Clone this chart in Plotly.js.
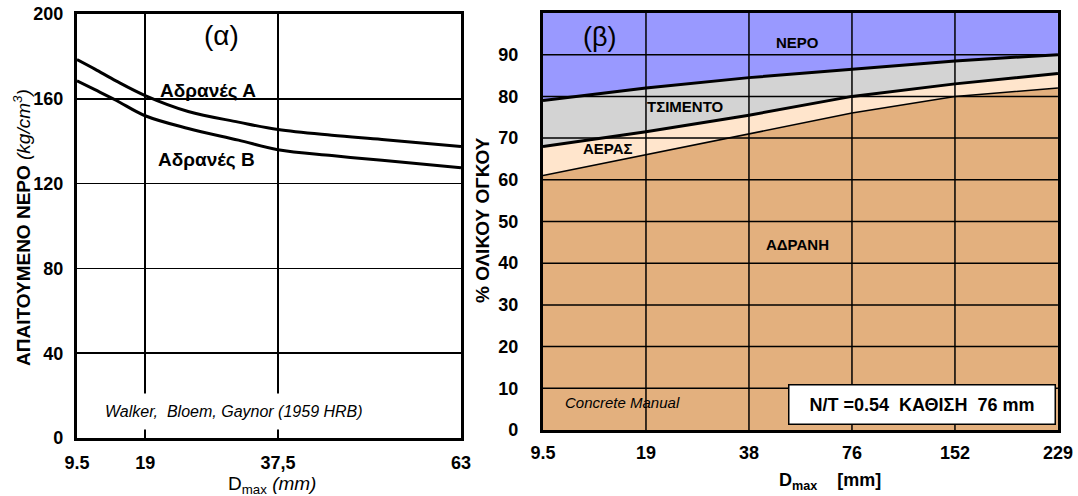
<!DOCTYPE html>
<html>
<head>
<meta charset="utf-8">
<script src="https://cdn.plot.ly/plotly-3.0.1.min.js"></script>
<style>
  html, body { margin: 0; padding: 0; background: #ffffff; }
  #chart { width: 1078px; height: 496px; }
</style>
</head>
<body>
<div id="chart"></div>
<script>
// (α) Required mixing water vs. maximum aggregate size
const DMAX_A = [9.5, 12, 15, 19, 25, 32, 37.5, 45, 52, 63];
const WATER_AGG_A = [178.5, 174, 168.3, 161.5, 154, 149, 145.5, 142.8, 140.8, 137.5];
const WATER_AGG_B = [168.5, 164.3, 159.2, 152, 146, 140.5, 136, 133.2, 131, 127.5];
const XTICKS_A = [9.5, 19, 37.5, 63];
const XTICKTEXT_A = ['9.5', '19', '37,5', '63'];
const YTICKS_A = [0, 40, 80, 120, 160, 200];

// (β) Volume composition of concrete (% of total volume)
const DMAX_B = ['9.5', '19', '38', '76', '152', '229'];
const AGGREGATE = [61, 66, 71, 76, 80, 82];
const AIR = [7, 5.5, 4.5, 4, 3, 3.5];
const CEMENT = [11, 10.5, 9, 6.5, 5.5, 4.5];
const WATER = [21, 18, 15.5, 13.5, 11.5, 10];
const YTICKS_B = [0, 10, 20, 30, 40, 50, 60, 70, 80, 90];

const SANS = 'Liberation Sans, Arial, sans-serif';
const NARROW = 'Liberation Sans Narrow, Liberation Sans, Arial, sans-serif';

const traces = [
  { x: DMAX_A, y: WATER_AGG_A, type: 'scatter', mode: 'lines', xaxis: 'x', yaxis: 'y',
    line: { color: '#000', width: 3, shape: 'spline', smoothing: 1 }, name: 'Αδρανές Α' },
  { x: DMAX_A, y: WATER_AGG_B, type: 'scatter', mode: 'lines', xaxis: 'x', yaxis: 'y',
    line: { color: '#000', width: 3, shape: 'spline', smoothing: 1 }, name: 'Αδρανές Β' },

  { x: DMAX_B, y: AGGREGATE, type: 'scatter', mode: 'lines', stackgroup: 'vol', xaxis: 'x2', yaxis: 'y2',
    fillcolor: '#E3B07E', line: { color: '#000', width: 1.5 }, name: 'ΑΔΡΑΝΗ' },
  { x: DMAX_B, y: AIR, type: 'scatter', mode: 'lines', stackgroup: 'vol', xaxis: 'x2', yaxis: 'y2',
    fillcolor: '#FFE5CC', line: { color: '#000', width: 3 }, name: 'ΑΕΡΑΣ' },
  { x: DMAX_B, y: CEMENT, type: 'scatter', mode: 'lines', stackgroup: 'vol', xaxis: 'x2', yaxis: 'y2',
    fillcolor: '#D3D3D3', line: { color: '#000', width: 3 }, name: 'ΤΣΙΜΕΝΤΟ' },
  { x: DMAX_B, y: WATER, type: 'scatter', mode: 'lines', stackgroup: 'vol', xaxis: 'x2', yaxis: 'y2',
    fillcolor: '#9999FF', line: { color: '#000', width: 0 }, name: 'ΝΕΡΟ' }
];

// grid of panel (β) drawn over the filled areas
const shapes = [];
for (let i = 1; i < DMAX_B.length - 1; i++) {
  shapes.push({ type: 'line', layer: 'above', xref: 'x2', yref: 'y2 domain',
    x0: i, x1: i, y0: 0, y1: 1, line: { color: '#000', width: 1.5 } });
}
YTICKS_B.slice(1).forEach(v => {
  shapes.push({ type: 'line', layer: 'above', xref: 'x2 domain', yref: 'y2',
    x0: 0, x1: 1, y0: v, y1: v, line: { color: '#000', width: 1.5 } });
});

const frame = { showline: true, mirror: true, linecolor: '#000', linewidth: 3,
  zeroline: false, ticks: '', automargin: false, fixedrange: true };

function label(opts) {
  return Object.assign({ showarrow: false, xanchor: 'center', yanchor: 'middle' }, opts);
}

const layout = {
  width: 1078, height: 496,
  margin: { l: 0, r: 0, t: 0, b: 0 },
  paper_bgcolor: '#fff', plot_bgcolor: '#fff',
  showlegend: false,
  xaxis: Object.assign({}, frame, {
    anchor: 'y', domain: [0.0714, 0.4276], range: [9.5, 63],
    tickvals: XTICKS_A, ticktext: XTICKTEXT_A,
    showgrid: true, gridcolor: '#000', gridwidth: 1.5,
    tickfont: { family: SANS, size: 18, color: '#000', weight: 'bold' },
    ticklabelstandoff: 6
  }),
  yaxis: Object.assign({}, frame, {
    anchor: 'x', domain: [0.1169, 0.9718], range: [0, 200],
    tickvals: YTICKS_A,
    showgrid: true, gridcolor: '#000', gridwidth: 1.5,
    tickfont: { family: SANS, size: 18, color: '#000', weight: 'bold' },
    ticklabelstandoff: 7
  }),
  xaxis2: Object.assign({}, frame, {
    anchor: 'y2', domain: [0.5037, 0.9814], type: 'category', categoryarray: DMAX_B,
    range: [0, DMAX_B.length - 1], showgrid: false,
    tickfont: { family: NARROW, size: 18, color: '#000', weight: 'bold' },
    ticklabelstandoff: 4
  }),
  yaxis2: Object.assign({}, frame, {
    anchor: 'x2', domain: [0.1331, 0.9738], range: [0, 100],
    tickvals: YTICKS_B, showgrid: false,
    tickfont: { family: NARROW, size: 18, color: '#000', weight: 'bold' },
    ticklabelstandoff: 18
  }),
  shapes: shapes,
  annotations: [
    // panel (α)
    label({ xref: 'x', yref: 'y', x: 29.7, y: 190, text: '(α)',
      font: { family: SANS, size: 28, color: '#000' } }),
    label({ xref: 'x', yref: 'y', x: 27.7, y: 164, text: '<b>Αδρανές Α</b>',
      font: { family: SANS, size: 19, color: '#000' } }),
    label({ xref: 'x', yref: 'y', x: 27.6, y: 131.6, text: '<b>Αδρανές Β</b>',
      font: { family: SANS, size: 19, color: '#000' } }),
    label({ xref: 'x', yref: 'y', x: 31.4, y: 12.3, text: '<i>Walker,  Bloem, Gaynor (1959 HRB)</i>',
      bgcolor: '#fff', borderpad: 9,
      font: { family: NARROW, size: 16, color: '#000' } }),
    label({ xref: 'paper', yref: 'paper', x: 22 / 1078, y: 1 - 228 / 496, textangle: -90,
      text: '<b>ΑΠΑΙΤΟΥΜΕΝΟ ΝΕΡΟ</b> <i>(kg/cm<sup>3</sup>)</i>',
      font: { family: SANS, size: 19, color: '#000' } }),
    label({ xref: 'paper', yref: 'paper', x: 272 / 1078, y: 1 - 485 / 496,
      text: 'D<sub>max</sub> <i>(mm)</i>',
      font: { family: SANS, size: 19, color: '#000' } }),

    // panel (β)
    label({ xref: 'x2', yref: 'y2', x: 0.55, y: 94.2, text: '(β)',
      font: { family: SANS, size: 27, color: '#000' } }),
    label({ xref: 'x2', yref: 'y2', x: 2.47, y: 93, text: '<b>ΝΕΡΟ</b>',
      font: { family: NARROW, size: 15, color: '#000' } }),
    label({ xref: 'x2', yref: 'y2', x: 1.38, y: 77.5, text: '<b>ΤΣΙΜΕΝΤΟ</b>',
      font: { family: NARROW, size: 15, color: '#000' } }),
    label({ xref: 'x2', yref: 'y2', x: 0.63, y: 67.6, text: '<b>ΑΕΡΑΣ</b>',
      font: { family: NARROW, size: 15, color: '#000' } }),
    label({ xref: 'x2', yref: 'y2', x: 2.47, y: 44.4, text: '<b>ΑΔΡΑΝΗ</b>',
      font: { family: NARROW, size: 15, color: '#000' } }),
    label({ xref: 'x2', yref: 'y2', x: 0.77, y: 6.7, text: '<i>Concrete Manual</i>',
      font: { family: NARROW, size: 15, color: '#000' } }),
    label({ xref: 'x2', yref: 'y2', x: 3.68, y: 6, text: '<b>N/T =0.54  ΚΑΘΙΣΗ  76 mm</b>',
      width: 257, height: 30, align: 'center',
      bgcolor: '#fff', bordercolor: '#000', borderwidth: 1.5, borderpad: 4,
      font: { family: NARROW, size: 18, color: '#000' } }),
    label({ xref: 'paper', yref: 'paper', x: 482 / 1078, y: 1 - 220 / 496, textangle: -90,
      text: '<b>% ΟΛΙΚΟΥ ΟΓΚΟΥ</b>',
      font: { family: SANS, size: 19, color: '#000' } }),
    label({ xref: 'paper', yref: 'paper', x: 830 / 1078, y: 1 - 481 / 496,
      text: '<b>D<sub>max</sub>    [mm]</b>',
      font: { family: NARROW, size: 18, color: '#000' } })
  ]
};

Plotly.newPlot('chart', traces, layout, { displayModeBar: false, staticPlot: true });
</script>
</body>
</html>
